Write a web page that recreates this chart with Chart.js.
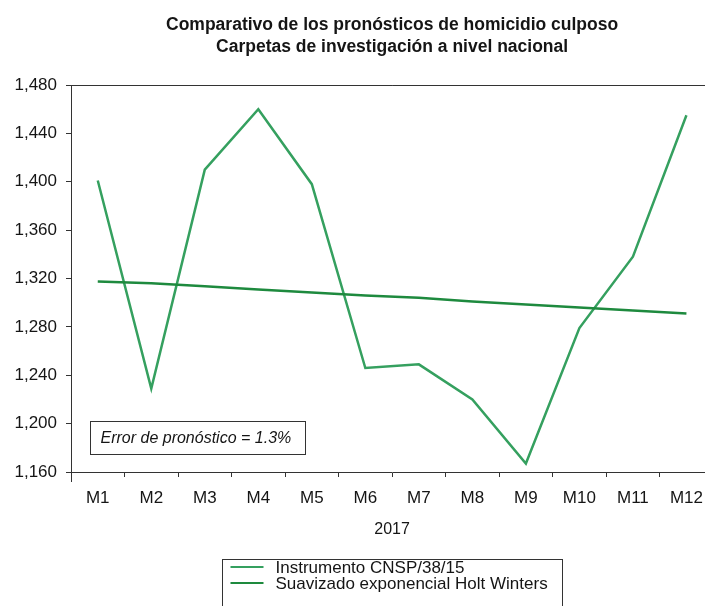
<!DOCTYPE html>
<html>
<head>
<meta charset="utf-8">
<script src="https://cdn.jsdelivr.net/npm/chart.js@4"></script>
<style>
  html, body { margin: 0; padding: 0; background: #fff; overflow: hidden; }
</style>
</head>
<body>
<canvas id="forecastChart" width="714" height="606"></canvas>
<script>
// Data
const months = ["M1", "M2", "M3", "M4", "M5", "M6", "M7", "M8", "M9", "M10", "M11", "M12"];
const instrumento = [1401, 1229, 1410, 1460, 1398, 1246, 1249, 1220, 1167, 1279, 1338, 1455];
const holtWinters = [1317.5, 1316, 1313.5, 1311, 1308.5, 1306, 1304, 1301, 1298.5, 1296, 1293.5, 1291];
const seriesNames = ["Instrumento CNSP/38/15", "Suavizado exponencial Holt Winters"];
const chartTitle = ["Comparativo de los pronósticos de homicidio culposo", "Carpetas de investigación a nivel nacional"];
const xAxisTitle = "2017";
const errorNote = "Error de pronóstico = 1.3%";

const FONT = "'Liberation Sans', Arial, sans-serif";
const AXIS = "#333333";
const TEXT = "#151515";

Chart.defaults.font.family = FONT;
Chart.defaults.color = TEXT;

// top edge of the frame (Chart.js only draws the axes)
const frameTop = {
  id: "frameTop",
  afterDraw(chart) {
    const { ctx, chartArea } = chart;
    ctx.save();
    ctx.strokeStyle = AXIS;
    ctx.lineWidth = 1;
    ctx.beginPath();
    ctx.moveTo(chartArea.left, Math.round(chartArea.top) + 0.5);
    ctx.lineTo(chartArea.right, Math.round(chartArea.top) + 0.5);
    // left axis runs a little past the bottom axis
    ctx.moveTo(Math.round(chartArea.left) + 0.5, chartArea.bottom);
    ctx.lineTo(Math.round(chartArea.left) + 0.5, chartArea.bottom + 10);
    ctx.stroke();
    ctx.restore();
  }
};

// boxed note in the lower left of the plot
const noteBox = {
  id: "noteBox",
  afterDraw(chart) {
    const { ctx, chartArea } = chart;
    const x = Math.round(chartArea.left + 19) + 0.5;
    const y = Math.round(chartArea.bottom - 51) + 0.5;
    ctx.save();
    ctx.fillStyle = "#fff";
    ctx.fillRect(x, y, 215, 33);
    ctx.strokeStyle = AXIS;
    ctx.lineWidth = 1;
    ctx.strokeRect(x, y, 215, 33);
    ctx.fillStyle = TEXT;
    ctx.font = "italic 16px " + FONT;
    ctx.textBaseline = "middle";
    ctx.fillText(errorNote, x + 10, y + 17);
    ctx.restore();
  }
};

// stacked legend in a box under the axis
const boxLegend = {
  id: "boxLegend",
  afterDraw(chart) {
    const { ctx } = chart;
    const left = 222.5, top = 559.5;
    ctx.save();
    ctx.strokeStyle = AXIS;
    ctx.lineWidth = 1;
    ctx.strokeRect(left, top, 340, 70);
    ctx.font = "17px " + FONT;
    ctx.textBaseline = "middle";
    chart.data.datasets.forEach((ds, i) => {
      const y = 567 + i * 16;
      ctx.strokeStyle = ds.borderColor;
      ctx.lineWidth = 2;
      ctx.beginPath();
      ctx.moveTo(left + 8, y);
      ctx.lineTo(left + 41, y);
      ctx.stroke();
      ctx.fillStyle = TEXT;
      ctx.fillText(ds.label, left + 53, y + 1);
    });
    ctx.restore();
  }
};

new Chart(document.getElementById("forecastChart").getContext("2d"), {
  type: "line",
  data: {
    labels: months,
    datasets: [
      {
        label: seriesNames[0],
        data: instrumento,
        borderColor: "#35a05f",
        borderWidth: 2.5,
        pointRadius: 0,
        tension: 0,
        order: 2
      },
      {
        label: seriesNames[1],
        data: holtWinters,
        borderColor: "#1e8a3e",
        borderWidth: 2.5,
        pointRadius: 0,
        tension: 0,
        order: 1
      }
    ]
  },
  options: {
    responsive: false,
    animation: false,
    layout: { padding: { top: 0, right: 0, bottom: 66.5, left: 0 } },
    plugins: {
      legend: { display: false },
      tooltip: { enabled: false },
      title: {
        display: true,
        text: chartTitle,
        fullSize: false,
        color: TEXT,
        font: { size: 17.5, weight: "bold", lineHeight: 1.25 },
        padding: { top: 14, bottom: 27.25 }
      }
    },
    scales: {
      x: {
        offset: true,
        grid: { offset: true, drawOnChartArea: false, drawTicks: true, tickLength: 5, color: AXIS },
        border: { display: true, color: AXIS, width: 1 },
        ticks: { color: TEXT, font: { size: 17 }, padding: 11, maxRotation: 0 },
        title: { display: true, text: xAxisTitle, color: TEXT, font: { size: 16 }, padding: { top: 11, bottom: 0 } },
        afterFit(scale) { scale.height = 67.5; }
      },
      y: {
        min: 1160,
        max: 1480,
        ticks: { stepSize: 40, color: TEXT, font: { size: 17 }, padding: 9 },
        grid: { drawOnChartArea: false, drawTicks: true, tickLength: 5, color: AXIS },
        border: { display: true, color: AXIS, width: 1 },
        afterFit(scale) { scale.width = 71; }
      }
    }
  },
  plugins: [frameTop, noteBox, boxLegend]
});
</script>
</body>
</html>
